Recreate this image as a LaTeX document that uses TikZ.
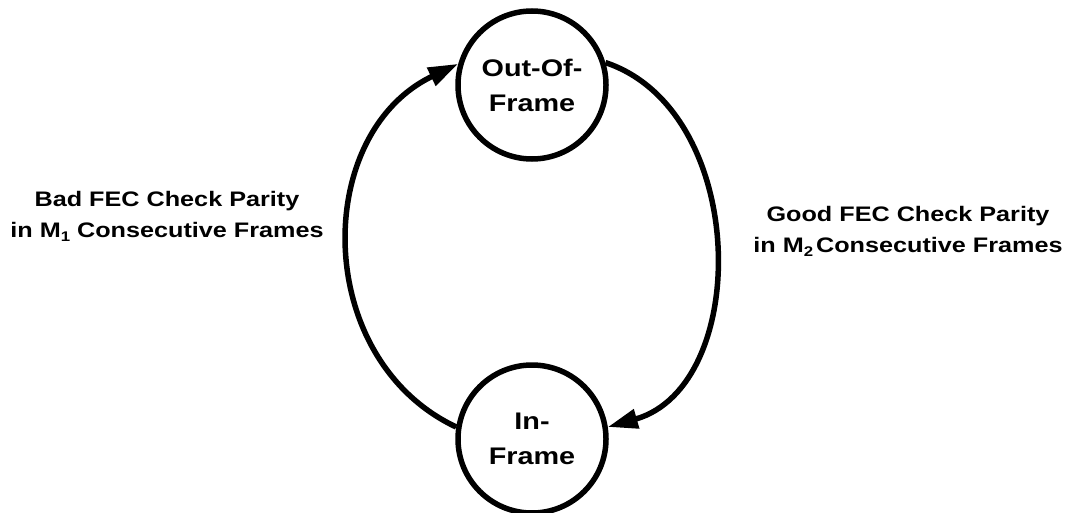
\documentclass[tikz,border=0pt]{standalone}
\usepackage{fontspec}
\setmainfont{Liberation Sans}
\newfontfamily\wideface[FakeStretch=1.2]{Liberation Sans}
\usetikzlibrary{arrows.meta}
\newcommand{\tief}[1]{\raisebox{-0.45ex}{\fontsize{14}{14}\selectfont #1}}
\tikzset{
    >={Triangle[length=30pt,width=19pt]},
    punkt/.style={
           circle,
           draw=black, line width=5.5pt,
           minimum size=148pt,
           inner sep=0pt,
           align=center,
           font=\wideface\bfseries\fontsize{24}{35}\selectfont},
    pil/.style={
           ->,
           line width=5.5pt},
    merk/.style={
           align=center, anchor=base,
           font=\wideface\bfseries\fontsize{21}{30.5}\selectfont}
}

\begin{document}
\begin{tikzpicture}[x=1pt,y=-1pt]
          \useasboundingbox (0,0) rectangle (1067,513);
          \node[punkt](oof) at (532,85) {Out-Of-\\Frame};
          \node[punkt](inf) at (532,439) {In-\\Frame};
          \node[merk](bad) at (167,237) {Bad FEC Check Parity\\in M\tief{1} Consecutive Frames};
          \node[merk](good) at (908,252) {Good FEC Check Parity\\in M\tief{2}\hspace{3pt}Consecutive Frames};
          \draw[pil] (inf.171) .. controls +(-144,-68) and +(-146,70) .. (oof.164);
          \draw[pil] (oof.17) .. controls +(144,48) and +(144,-41) .. (inf.9);
\end{tikzpicture}
\end{document}
